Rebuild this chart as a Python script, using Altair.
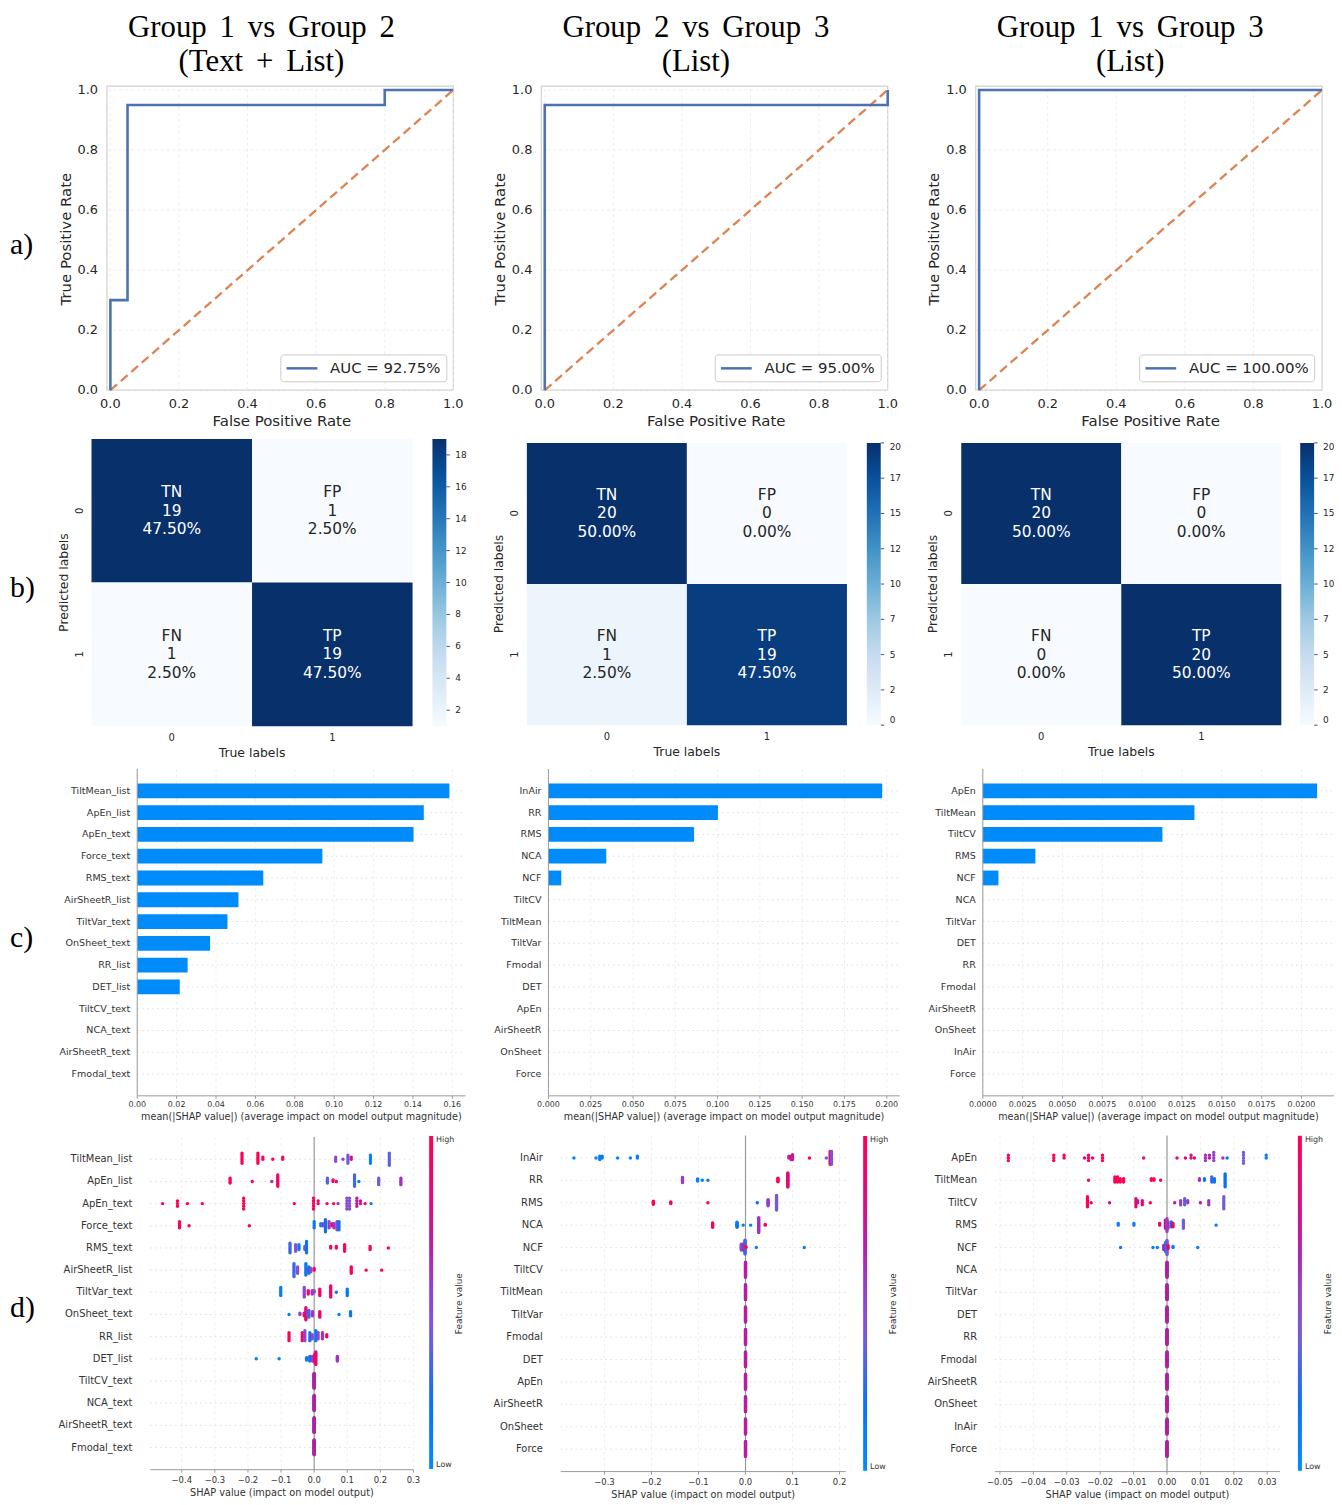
import math
import altair as alt
import pandas as pd

# ======================= data =======================
SP = " \u2006"  # slightly wider word spacing, as in the LaTeX titles
col_titles = [
    f"Group{SP}1{SP}vs{SP}Group{SP}2\n(Text{SP}+{SP}List)",
    f"Group{SP}2{SP}vs{SP}Group{SP}3\n(List)",
    f"Group{SP}1{SP}vs{SP}Group{SP}3\n(List)",
]
row_tags = ["a)", "b)", "c)", "d)"]

# ROC curves
roc_fpr = [
    [0.0, 0.0, 0.05, 0.05, 0.80, 0.80, 1.0],
    [0.0, 0.0, 1.0, 1.0],
    [0.0, 0.0, 1.0],
]
roc_tpr = [
    [0.0, 0.30, 0.30, 0.95, 0.95, 1.0, 1.0],
    [0.0, 0.95, 0.95, 1.0],
    [0.0, 1.0, 1.0],
]
auc_labels = ["AUC = 92.75%", "AUC = 95.00%", "AUC = 100.00%"]
chance_x = [0.0, 1.0]
chance_y = [0.0, 1.0]
roc_ticks = [0.0, 0.2, 0.4, 0.6, 0.8, 1.0]

# confusion matrices
cm_cell_names = [["TN", "FP"], ["FN", "TP"]]
cm_counts = [
    [[19, 1], [1, 19]],
    [[20, 0], [1, 19]],
    [[20, 0], [0, 20]],
]
cm_tick_labels = ["0", "1"]
cm_color_domains = [[1, 19], [0, 20], [0, 20]]
cm_colorbar_ticks = [
    [2, 4, 6, 8, 10, 12, 14, 16, 18],
    [0, 2.5, 5, 7.5, 10, 12.5, 15, 17.5, 20],
    [0, 2.5, 5, 7.5, 10, 12.5, 15, 17.5, 20],
]

# SHAP features (top -> bottom)
feats_1 = ["TiltMean_list", "ApEn_list", "ApEn_text", "Force_text", "RMS_text",
           "AirSheetR_list", "TiltVar_text", "OnSheet_text", "RR_list", "DET_list",
           "TiltCV_text", "NCA_text", "AirSheetR_text", "Fmodal_text"]
feats_2 = ["InAir", "RR", "RMS", "NCA", "NCF", "TiltCV", "TiltMean", "TiltVar",
           "Fmodal", "DET", "ApEn", "AirSheetR", "OnSheet", "Force"]
feats_3 = ["ApEn", "TiltMean", "TiltCV", "RMS", "NCF", "NCA", "TiltVar", "DET",
           "RR", "Fmodal", "AirSheetR", "OnSheet", "InAir", "Force"]

# mean(|SHAP|)
bar_vals_1 = [0.1585, 0.1455, 0.1403, 0.0940, 0.0640, 0.0514, 0.0458, 0.0370,
              0.0256, 0.0216, 0.0, 0.0, 0.0, 0.0]
bar_vals_2 = [0.1973, 0.1002, 0.0861, 0.0342, 0.0076, 0.0, 0.0, 0.0,
              0.0, 0.0, 0.0, 0.0, 0.0, 0.0]
bar_vals_3 = [0.02098, 0.01328, 0.01127, 0.0033, 0.00098, 0.0, 0.0, 0.0,
              0.0, 0.0, 0.0, 0.0, 0.0, 0.0]

bar_ticks_1 = [0.0, 0.02, 0.04, 0.06, 0.08, 0.10, 0.12, 0.14, 0.16]
bar_ticks_2 = [0.0, 0.025, 0.05, 0.075, 0.10, 0.125, 0.15, 0.175, 0.20]
bar_ticks_3 = [0.0, 0.0025, 0.005, 0.0075, 0.01, 0.0125, 0.015, 0.0175, 0.02]

bee_ticks_1 = [-0.4, -0.3, -0.2, -0.1, 0.0, 0.1, 0.2, 0.3]
bee_ticks_2 = [-0.3, -0.2, -0.1, 0.0, 0.1, 0.2]
bee_ticks_3 = [-0.05, -0.04, -0.03, -0.02, -0.01, 0.0, 0.01, 0.02, 0.03]

# beeswarm clusters: (SHAP value, number of samples, feature value 0=low..1=high)
zero_mix = [(0.0, 15, 1.0), (0.0, 13, 0.08), (0.0, 12, 0.7)]

bee_1 = {
    "TiltMean_list": [(-0.218, 6, 1), (-0.170, 6, 1), (-0.155, 2, 1), (-0.125, 1, 1), (-0.095, 2, 1),
                      (0.065, 3, 0.5), (0.087, 1, 0.55), (0.102, 5, 0.4), (0.112, 2, 0.8),
                      (0.170, 5, 0.1), (0.227, 7, 0.35)],
    "ApEn_list": [(-0.254, 4, 1), (-0.187, 1, 1), (-0.128, 1, 0.6), (-0.110, 8, 0.9),
                  (0.040, 4, 0.35), (0.057, 2, 0.9), (0.067, 1, 1), (0.122, 8, 0.3),
                  (0.135, 1, 0.1), (0.195, 5, 0.4), (0.262, 5, 0.6)],
    "ApEn_text": [(-0.458, 1, 1), (-0.413, 3, 1), (-0.383, 1, 1), (-0.338, 1, 1), (-0.213, 5, 1),
                  (-0.060, 1, 1), (-0.002, 5, 0.95), (0.012, 2, 0.9), (0.039, 1, 1), (0.059, 1, 0.9),
                  (0.072, 1, 0.6), (0.099, 5, 0.5), (0.107, 5, 0.45), (0.129, 4, 0.7),
                  (0.140, 2, 0.85), (0.154, 1, 0.9), (0.172, 1, 0.1)],
    "Force_text": [(-0.407, 4, 1), (-0.378, 1, 1), (-0.196, 1, 1), (0.000, 4, 0.15), (0.020, 2, 0.1),
                   (0.027, 2, 0.55), (0.034, 7, 0.2), (0.045, 4, 0.55), (0.054, 2, 0.9),
                   (0.060, 3, 0.6), (0.069, 5, 0.5), (0.075, 5, 0.2)],
    "RMS_text": [(-0.073, 7, 0.3), (-0.056, 5, 0.45), (-0.046, 4, 0.15), (-0.028, 3, 0.5),
                 (-0.023, 8, 0.15), (0.050, 2, 1), (0.067, 2, 0.95), (0.092, 5, 0.95),
                 (0.169, 3, 1), (0.224, 1, 1)],
    "AirSheetR_list": [(-0.061, 9, 0.3), (-0.050, 5, 0.5), (-0.025, 8, 0.15), (-0.020, 1, 0.55),
                       (-0.016, 5, 0.2), (-0.010, 3, 0.5), (0.000, 2, 0.95), (0.112, 5, 1),
                       (0.157, 1, 1), (0.204, 1, 1)],
    "TiltVar_text": [(-0.101, 6, 0.1), (-0.030, 7, 0.5), (-0.018, 3, 0.9), (-0.006, 3, 0.6),
                     (0.000, 2, 0.5), (0.017, 5, 0.95), (0.050, 8, 0.95), (0.067, 1, 0.15),
                     (0.100, 5, 0.15)],
    "OnSheet_text": [(-0.076, 1, 0.1), (-0.043, 2, 0.5), (-0.030, 3, 1), (-0.025, 10, 0.9),
                     (-0.020, 4, 0.55), (-0.016, 6, 0.3), (-0.005, 4, 0.6), (0.017, 5, 0.9),
                     (0.075, 1, 0.1), (0.110, 4, 0.15)],
    "RR_list": [(-0.076, 5, 1), (-0.036, 5, 0.95), (-0.028, 6, 0.5), (-0.013, 5, 0.15),
                (-0.006, 3, 0.55), (0.005, 6, 0.15), (0.012, 4, 0.5), (0.025, 4, 0.6), (0.038, 2, 1)],
    "DET_list": [(-0.175, 1, 0.1), (-0.106, 1, 0.1), (-0.023, 3, 0.15), (-0.013, 5, 0.2),
                 (-0.005, 5, 0.55), (0.002, 8, 0.95), (0.005, 12, 0.9), (0.070, 5, 0.6)],
}
bee_2 = {
    "InAir": [(-0.365, 1, 0.05), (-0.318, 1, 0.05), (-0.310, 3, 0.1), (-0.305, 2, 0.15),
              (-0.272, 1, 0.05), (-0.245, 1, 0.05), (-0.230, 2, 0.1), (0.092, 2, 0.6),
              (0.097, 3, 0.95), (0.100, 4, 0.7), (0.136, 1, 1), (0.172, 1, 0.4),
              (0.180, 9, 0.85), (0.183, 9, 0.45)],
    "RR": [(-0.134, 8, 0.55), (-0.102, 4, 0.1), (-0.092, 1, 0.1), (-0.080, 1, 0.1),
           (0.069, 6, 0.95), (0.090, 20, 0.85)],
    "RMS": [(-0.196, 5, 1), (-0.159, 3, 1), (-0.080, 1, 1), (0.025, 1, 0.2),
            (0.048, 9, 0.55), (0.066, 21, 0.4)],
    "NCA": [(-0.070, 7, 0.95), (-0.018, 8, 0.15), (-0.005, 1, 0.1), (0.011, 1, 0.1),
            (0.028, 21, 0.6), (0.042, 2, 1)],
    "NCF": [(-0.009, 8, 0.5), (-0.003, 10, 0.8), (-0.001, 18, 0.3), (0.001, 2, 1),
            (0.023, 1, 0.1), (0.125, 1, 0.1)],
}
bee_3 = {
    "ApEn": [(-0.0475, 3, 1), (-0.0339, 3, 1), (-0.0308, 2, 1), (-0.0247, 1, 1), (-0.0235, 3, 1),
             (-0.0223, 1, 1), (-0.0193, 3, 1), (-0.0070, 1, 0.8), (0.0030, 1, 0.8), (0.0055, 1, 0.85),
             (0.0072, 2, 0.75), (0.0082, 1, 0.9), (0.0115, 3, 0.6), (0.0127, 2, 0.65),
             (0.0140, 4, 0.55), (0.0167, 1, 0.6), (0.0180, 1, 0.1), (0.0229, 5, 0.4), (0.0297, 2, 0.1)],
    "TiltMean": [(-0.0235, 1, 1), (-0.0156, 4, 1), (-0.0148, 4, 1), (-0.0140, 3, 0.95),
                 (-0.0130, 3, 1), (-0.0047, 2, 1), (-0.0039, 2, 1), (-0.0019, 1, 1),
                 (0.0097, 2, 0.6), (0.0112, 2, 0.15), (0.0134, 4, 0.3), (0.0142, 3, 0.15),
                 (0.0174, 9, 0.2)],
    "TiltCV": [(-0.0238, 6, 1), (-0.0227, 1, 1), (-0.0172, 1, 0.8), (-0.0093, 5, 0.85),
               (-0.0088, 2, 0.7), (-0.0074, 3, 0.9), (-0.0050, 1, 1), (0.0023, 1, 0.7),
               (0.0041, 3, 0.55), (0.0053, 4, 0.35), (0.0062, 2, 0.6), (0.0100, 1, 0.7),
               (0.0125, 3, 0.6), (0.0170, 7, 0.4)],
    "RMS": [(-0.0146, 2, 0.1), (-0.0099, 2, 0.1), (-0.0022, 2, 0.95), (-0.0005, 6, 0.8),
            (0.0000, 9, 0.5), (0.0003, 5, 0.6), (0.0013, 4, 0.2), (0.0018, 3, 1),
            (0.0049, 6, 0.4), (0.0147, 1, 0.1)],
    "NCF": [(-0.0139, 1, 0.1), (-0.0042, 1, 0.1), (-0.0029, 1, 0.1), (-0.0010, 5, 0.6),
            (-0.0004, 10, 0.2), (0.0000, 15, 0.4), (0.0003, 4, 0.9), (0.0018, 2, 0.1),
            (0.0092, 1, 0.1)],
}

# ======================= layout / style =======================
W, H = 1334, 1497


def px(v):
    return v - 8


SANS = "DejaVu Sans"
SERIF = "Liberation Serif"
INK = "#262626"
SINK = "#333333"
SHAP_BLUE = "#008bfb"
SPINE = "#999999"

# matplotlib "Blues"
BLUES = ["#f7fbff", "#deebf7", "#c6dbef", "#9ecae1", "#6baed6",
         "#4292c6", "#2171b5", "#08519c", "#08306b"]
# shap red_blue colormap (sampled from the reference colour bar)
SHAP_STOPS = [0.0, 0.2, 0.41, 0.56, 0.68, 0.82, 1.0]
SHAP_COLS = ["#008bfb", "#0a72f2", "#7a5ad8", "#9a3ccb", "#b81ca8", "#e00a80", "#ff0052"]

ROC_X0 = [111, 548, 985]
ROC_PPU = 345
ROC_YB, ROC_YT = 388, 82
ROC_LEG_X = [282, 719, 1146]

CM_X = [(92, 415), (530, 852), (967, 1289)]
CM_Y = [(437, 726), (441, 725), (441, 725)]
CM_CB_X = [435, 872, 1308]
CM_CB_W = 14

BAR_X = [(138, 468.3), (551.7, 905), (988.7, 1342)]
BAR_DMAX = [0.1667, 0.2076, 0.02204]
BAR_Y = (769.1, 1097.9)

BEE_X = [(151.2, 415.9), (564.1, 850.7), (1000.9, 1287.6)]
BEE_DOM = [(-0.495, 0.3), (-0.393, 0.213), (-0.0515, 0.0338)]
BEE_Y = [(1139.4, 1474.0), (1137.8, 1475.9), (1137.8, 1475.9)]
BEE_CB = [(431.7, 1138.3, 1473.3), (868.3, 1138.3, 1475.0), (1305.7, 1138.0, 1475.0)]
FV_X = [462, 898, 1336]

TITLE_CX = [263, 700, 1137]
TAG_Y = [251, 596, 948, 1320]

ONE = pd.DataFrame({"k": [0]})


def note(text, x, y, **kw):
    return alt.Chart(ONE).mark_text(text=text, **kw).encode(
        x=alt.value(px(x)), y=alt.value(px(y)))


def lin(domain, rng):
    return alt.Scale(domain=domain, range=[px(rng[0]), px(rng[1])], nice=False, zero=False)


# ======================= panels =======================
def roc_panel(i):
    x0 = ROC_X0[i]
    xs = lin([-0.01, 1.0], (x0 - 0.01 * ROC_PPU, x0 + ROC_PPU))
    ys = lin([0.0, 1.013], (ROC_YB, ROC_YT))
    tick_df = pd.DataFrame({"t": roc_ticks})
    frame = alt.Chart(ONE).mark_rect(fillOpacity=0, stroke="#d0d0d0", strokeWidth=1.2).encode(
        x=alt.XDatum(-0.01, scale=xs, axis=None), x2=alt.X2Datum(1.0),
        y=alt.YDatum(0.0, scale=ys, axis=None), y2=alt.Y2Datum(1.013))
    vgrid = alt.Chart(tick_df).mark_rule(color="#e9e9e9", strokeDash=[3, 3], strokeWidth=0.8).encode(
        x=alt.X("t:Q", scale=xs, axis=None),
        y=alt.YDatum(0.0, scale=ys, axis=None), y2=alt.Y2Datum(1.013))
    hgrid = alt.Chart(tick_df).mark_rule(color="#e9e9e9", strokeDash=[3, 3], strokeWidth=0.8).encode(
        y=alt.Y("t:Q", scale=ys, axis=None),
        x=alt.XDatum(-0.01, scale=xs, axis=None), x2=alt.X2Datum(1.0))
    diag = alt.Chart(pd.DataFrame({"x": chance_x, "y": chance_y})).mark_line(
        color="#dd8452", strokeDash=[9, 5], strokeWidth=2.3).encode(
        x=alt.X("x:Q", scale=xs, axis=None), y=alt.Y("y:Q", scale=ys, axis=None))
    cdf = pd.DataFrame({"fpr": roc_fpr[i], "tpr": roc_tpr[i],
                        "i": list(range(len(roc_fpr[i]))), "lbl": auc_labels[i]})
    curve = alt.Chart(cdf).mark_line(strokeWidth=2.6).encode(
        x=alt.X("fpr:Q", scale=xs, axis=None),
        y=alt.Y("tpr:Q", scale=ys, axis=None),
        order=alt.Order("i:Q"),
        color=alt.Color("lbl:N", scale=alt.Scale(domain=[auc_labels[i]], range=["#4c72b0"]),
                        legend=alt.Legend(
                            orient="none", legendX=px(ROC_LEG_X[i]), legendY=px(352), title=None,
                            symbolType="M-1,0H3", symbolSize=240, symbolStrokeWidth=2.5,
                            labelOffset=27, labelFont=SANS, labelFontSize=15, labelColor=INK,
                            padding=5, fillColor="white", strokeColor="#cccccc", cornerRadius=3)))
    xlab = alt.Chart(tick_df).mark_text(font=SANS, fontSize=13, color=INK, align="center",
                                        baseline="middle", dy=14).encode(
        x=alt.X("t:Q", scale=xs, axis=None), y=alt.YDatum(0.0, scale=ys, axis=None),
        text=alt.Text("t:Q", format=".1f"))
    ylab = alt.Chart(tick_df).mark_text(font=SANS, fontSize=13, color=INK, align="right",
                                        baseline="middle", dx=-9).encode(
        x=alt.XDatum(-0.01, scale=xs, axis=None), y=alt.Y("t:Q", scale=ys, axis=None),
        text=alt.Text("t:Q", format=".1f"))
    xt = note("False Positive Rate", x0 + 0.5 * ROC_PPU, 419, font=SANS, fontSize=15,
              color=INK, align="center", baseline="middle")
    yt = note("True Positive Rate", x0 - 45, 236, font=SANS, fontSize=15, angle=270,
              color=INK, align="center", baseline="middle")
    return [alt.layer(frame, vgrid, hgrid, diag, curve, xlab, ylab), xt, yt]


def cm_panel(i):
    xl, xr = CM_X[i]
    yt, yb = CM_Y[i]
    xs = lin([0, 2], (xl, xr))
    ys = lin([0, 2], (yt, yb))
    tot = sum(sum(r) for r in cm_counts[i])
    rows = []
    for r in range(2):
        for c in range(2):
            n = cm_counts[i][r][c]
            rows.append({"r": r, "c": c, "name": cm_cell_names[r][c], "n": n,
                         "pct": f"{100 * n / tot:.2f}%"})
    lo, hi = cm_color_domains[i]
    stops = [lo + k * (hi - lo) / (len(BLUES) - 1) for k in range(len(BLUES))]
    base = alt.Chart(pd.DataFrame(rows)).transform_calculate(
        c2="datum.c + 1", r2="datum.r + 1", cm="datum.c + 0.5", rm="datum.r + 0.5",
        txt="datum.name + '\\n' + datum.n + '\\n' + datum.pct")
    rect = base.mark_rect().encode(
        x=alt.X("c:Q", scale=xs, axis=None), x2="c2:Q",
        y=alt.Y("r:Q", scale=ys, axis=None), y2="r2:Q",
        color=alt.Color("n:Q", scale=alt.Scale(domain=stops, range=BLUES, interpolate="rgb"),
                        legend=alt.Legend(
                            orient="none", legendX=px(CM_CB_X[i]), legendY=px(yt),
                            direction="vertical", gradientLength=yb - yt,
                            gradientThickness=CM_CB_W, gradientStrokeWidth=0, title=None,
                            values=cm_colorbar_ticks[i],
                            labelExpr="'' + floor(datum.value)", labelFont=SANS, labelFontSize=9,
                            labelColor=INK, labelOffset=9, labelBaseline="middle",
                            labelOverlap=False, padding=0)))
    txt_dark = base.transform_filter("datum.n <= 10").mark_text(
        lineBreak="\n", font=SANS, fontSize=15.5, lineHeight=18.5, color=INK, dy=-18.5).encode(
        x=alt.X("cm:Q", scale=xs, axis=None), y=alt.Y("rm:Q", scale=ys, axis=None), text="txt:N")
    txt_light = base.transform_filter("datum.n > 10").mark_text(
        lineBreak="\n", font=SANS, fontSize=15.5, lineHeight=18.5, color="white", dy=-18.5).encode(
        x=alt.X("cm:Q", scale=xs, axis=None), y=alt.Y("rm:Q", scale=ys, axis=None), text="txt:N")
    tdf = pd.DataFrame({"t": [0.5, 1.5], "lab": cm_tick_labels})
    xlab = alt.Chart(tdf).mark_text(font=SANS, fontSize=10, color=INK, baseline="middle", dy=12).encode(
        x=alt.X("t:Q", scale=xs, axis=None), y=alt.YDatum(2, scale=ys, axis=None), text="lab:N")
    ylab = alt.Chart(tdf).mark_text(font=SANS, fontSize=10, color=INK, angle=270,
                                    baseline="middle").encode(
        x=alt.value(px(xl - 12)), y=alt.Y("t:Q", scale=ys, axis=None), text="lab:N")
    # colour-bar tick marks, placed through the colour bar's own value scale
    cbs = lin([lo, hi], (yb, yt))
    cbx = CM_CB_X[i] + CM_CB_W
    cb_ticks = alt.Chart(pd.DataFrame({"t": cm_colorbar_ticks[i]})).mark_rule(
        color=INK, strokeWidth=0.8).encode(
        y=alt.Y("t:Q", scale=cbs, axis=None), x=alt.value(px(cbx)), x2=alt.value(px(cbx + 3.5)))
    xt = note("True labels", (xl + xr) / 2, yb + 27, font=SANS, fontSize=12.5, color=INK,
              align="center", baseline="middle")
    ytt = note("Predicted labels", xl - 28, (yt + yb) / 2, font=SANS, fontSize=12.5, angle=270,
               color=INK, align="center", baseline="middle")
    return [alt.layer(rect, txt_dark, txt_light, xlab, ylab), cb_ticks, xt, ytt]


def bar_panel(i, feats, vals, ticks, fmt):
    xl, xr = BAR_X[i]
    n = len(feats)
    dmax = BAR_DMAX[i]
    xs = lin([0, dmax], (xl, xr))
    ys = lin([-1, n], BAR_Y)
    ppr = (BAR_Y[1] - BAR_Y[0]) / (n + 1)
    tick_df = pd.DataFrame({"t": ticks})
    rank_df = pd.DataFrame({"rank": list(range(n)), "feat": feats, "v": vals})
    vgrid = alt.Chart(tick_df).mark_rule(color="#e8e8e8", strokeDash=[3, 3], strokeWidth=0.7).encode(
        x=alt.X("t:Q", scale=xs, axis=None),
        y=alt.YDatum(-1, scale=ys, axis=None), y2=alt.Y2Datum(n))
    hgrid = alt.Chart(rank_df).mark_rule(color="#d0d0d0", strokeDash=[1.5, 3.5], strokeWidth=0.7).encode(
        y=alt.Y("rank:Q", scale=ys, axis=None),
        x=alt.XDatum(0, scale=xs, axis=None), x2=alt.X2Datum(dmax))
    bars = alt.Chart(rank_df).transform_filter("datum.v > 0").transform_calculate(
        z="0", lo="datum.rank - 0.34", hi="datum.rank + 0.34").mark_rect(color=SHAP_BLUE).encode(
        x=alt.X("z:Q", scale=xs, axis=None), x2="v:Q",
        y=alt.Y("lo:Q", scale=ys, axis=None), y2="hi:Q")
    spine_l = alt.Chart(ONE).mark_rule(color=SPINE, strokeWidth=1).encode(
        x=alt.XDatum(0, scale=xs, axis=None),
        y=alt.YDatum(-1, scale=ys, axis=None), y2=alt.Y2Datum(n))
    spine_b = alt.Chart(ONE).mark_rule(color=SPINE, strokeWidth=1).encode(
        y=alt.YDatum(n, scale=ys, axis=None),
        x=alt.XDatum(0, scale=xs, axis=None), x2=alt.X2Datum(dmax))
    tmarks = alt.Chart(tick_df).mark_rule(color=SPINE, strokeWidth=1).encode(
        x=alt.X("t:Q", scale=xs, axis=None),
        y=alt.YDatum(n, scale=ys, axis=None), y2=alt.Y2Datum(n + 3 / ppr))
    xlab = alt.Chart(tick_df).mark_text(font=SANS, fontSize=8, color=SINK, baseline="middle",
                                        dy=9).encode(
        x=alt.X("t:Q", scale=xs, axis=None), y=alt.YDatum(n, scale=ys, axis=None),
        text=alt.Text("t:Q", format=fmt))
    ylab = alt.Chart(rank_df).mark_text(font=SANS, fontSize=9.6, color=SINK, align="right",
                                        baseline="middle", dx=-7).encode(
        x=alt.XDatum(0, scale=xs, axis=None), y=alt.Y("rank:Q", scale=ys, axis=None),
        text="feat:N")
    xt = note("mean(|SHAP value|) (average impact on model output magnitude)", (xl + xr) / 2,
              1119.3, font=SANS, fontSize=9.7, color=SINK, align="center", baseline="middle")
    return [alt.layer(vgrid, hgrid, bars, spine_l, spine_b, tmarks, xlab, ylab), xt]


def swarm_offsets(xv, keys):
    n = len(xv)
    lo, hi = min(xv), max(xv)
    quant = [round(100 * (v - lo) / (hi - lo + 1e-8)) for v in xv]
    order = sorted(range(n), key=lambda j: (quant[j], keys[j]))
    ys = [0.0] * n
    layer, last = 0, None
    for j in order:
        if quant[j] != last:
            layer = 0
        ys[j] = math.ceil(layer / 2) * ((layer % 2) * 2 - 1)
        layer += 1
        last = quant[j]
    m = max(ys) + 1
    return [y * 0.9 * 0.4 / m for y in ys]


def bee_panel(i, feats, clusters, ticks, fmt):
    xl, xr = BEE_X[i]
    d0, d1 = BEE_DOM[i]
    yt, yb = BEE_Y[i]
    n = len(feats)
    xs = lin([d0, d1], (xl, xr))
    ys = lin([-1, n], (yt, yb))
    ppr = (yb - yt) / (n + 1)
    rows = []
    for r, f in enumerate(feats):
        cl = clusters.get(f, zero_mix)
        xv, cv, keys = [], [], []
        for ci, (x, cnt, c) in enumerate(cl):
            for k in range(cnt):
                xv.append(x)
                cv.append(c)
                keys.append((k, ci))
        offs = swarm_offsets(xv, keys)
        for x, c, o in zip(xv, cv, offs):
            rows.append({"shap": x, "pos": r - o, "fv": c})
    df = pd.DataFrame(rows)
    tick_df = pd.DataFrame({"t": ticks})
    rank_df = pd.DataFrame({"rank": list(range(n)), "feat": feats})
    vgrid = alt.Chart(tick_df).mark_rule(color="#e8e8e8", strokeDash=[3, 3], strokeWidth=0.7).encode(
        x=alt.X("t:Q", scale=xs, axis=None),
        y=alt.YDatum(-1, scale=ys, axis=None), y2=alt.Y2Datum(n))
    hgrid = alt.Chart(rank_df).mark_rule(color="#d0d0d0", strokeDash=[1.5, 3.5], strokeWidth=0.7).encode(
        y=alt.Y("rank:Q", scale=ys, axis=None),
        x=alt.XDatum(d0, scale=xs, axis=None), x2=alt.X2Datum(d1))
    zero = alt.Chart(ONE).mark_rule(color="#999999", strokeWidth=1.2).encode(
        x=alt.XDatum(0, scale=xs, axis=None),
        y=alt.YDatum(-1, scale=ys, axis=None), y2=alt.Y2Datum(n))
    spine_b = alt.Chart(ONE).mark_rule(color=SPINE, strokeWidth=1).encode(
        y=alt.YDatum(n, scale=ys, axis=None),
        x=alt.XDatum(d0, scale=xs, axis=None), x2=alt.X2Datum(d1))
    tmarks = alt.Chart(tick_df).mark_rule(color=SPINE, strokeWidth=1).encode(
        x=alt.X("t:Q", scale=xs, axis=None),
        y=alt.YDatum(n, scale=ys, axis=None), y2=alt.Y2Datum(n + 3 / ppr))
    cbx, cbt, cbb = BEE_CB[i]
    pts = alt.Chart(df).mark_circle(size=12, opacity=1).encode(
        x=alt.X("shap:Q", scale=xs, axis=None),
        y=alt.Y("pos:Q", scale=ys, axis=None),
        color=alt.Color("fv:Q", scale=alt.Scale(domain=SHAP_STOPS, range=SHAP_COLS, interpolate="rgb"),
                        legend=alt.Legend(
                            orient="none", legendX=px(cbx), legendY=px(cbt), direction="vertical",
                            gradientLength=cbb - cbt, gradientThickness=4, gradientStrokeWidth=0,
                            title=None, values=[0, 1],
                            labelExpr="datum.value > 0.5 ? 'High' : 'Low'",
                            labelFont=SANS, labelFontSize=8, labelColor=SINK, labelOffset=3,
                            labelBaseline="middle", labelOverlap=False, padding=0)))
    xlab = alt.Chart(tick_df).mark_text(font=SANS, fontSize=8.5, color=SINK, baseline="middle",
                                        dy=10).encode(
        x=alt.X("t:Q", scale=xs, axis=None), y=alt.YDatum(n, scale=ys, axis=None),
        text=alt.Text("t:Q", format=fmt))
    ylab = alt.Chart(rank_df).mark_text(font=SANS, fontSize=10, color=SINK, align="right",
                                        baseline="middle", dx=-18).encode(
        x=alt.XDatum(d0, scale=xs, axis=None), y=alt.Y("rank:Q", scale=ys, axis=None),
        text="feat:N")
    xt = note("SHAP value (impact on model output)", (xl + xr) / 2, yb + 23.5, font=SANS,
              fontSize=9.8, color=SINK, align="center", baseline="middle")
    fv = note("Feature value", FV_X[i], 1307, font=SANS, fontSize=9, angle=270,
              align="center", baseline="middle", color=SINK)
    return [alt.layer(vgrid, hgrid, zero, spine_b, tmarks, pts, xlab, ylab), xt, fv]


# ======================= assemble =======================
layers = []
for i in range(3):
    layers.append(note(col_titles[i], TITLE_CX[i], 32.5, font=SERIF, fontSize=31, lineBreak="\n",
                       lineHeight=34.5, align="center", baseline="alphabetic", color="black"))
for t, y in zip(row_tags, TAG_Y):
    layers.append(note(t, 10, y, font=SERIF, fontSize=30, align="left",
                       baseline="alphabetic", color="black"))

for i in range(3):
    layers += roc_panel(i)
for i in range(3):
    layers += cm_panel(i)

layers += bar_panel(0, feats_1, bar_vals_1, bar_ticks_1, ".2f")
layers += bar_panel(1, feats_2, bar_vals_2, bar_ticks_2, ".3f")
layers += bar_panel(2, feats_3, bar_vals_3, bar_ticks_3, ".4f")

layers += bee_panel(0, feats_1, bee_1, bee_ticks_1, ".1f")
layers += bee_panel(1, feats_2, bee_2, bee_ticks_2, ".1f")
layers += bee_panel(2, feats_3, bee_3, bee_ticks_3, ".2f")

chart = alt.layer(*layers).resolve_scale(
    x="independent", y="independent", color="independent"
).resolve_legend(
    color="independent"
).properties(
    width=W, height=H, padding=0, autosize=alt.AutoSizeParams(type="none")
).configure_view(stroke=None)

chart.save("out.html", embed_options={"renderer": "svg", "actions": False})
